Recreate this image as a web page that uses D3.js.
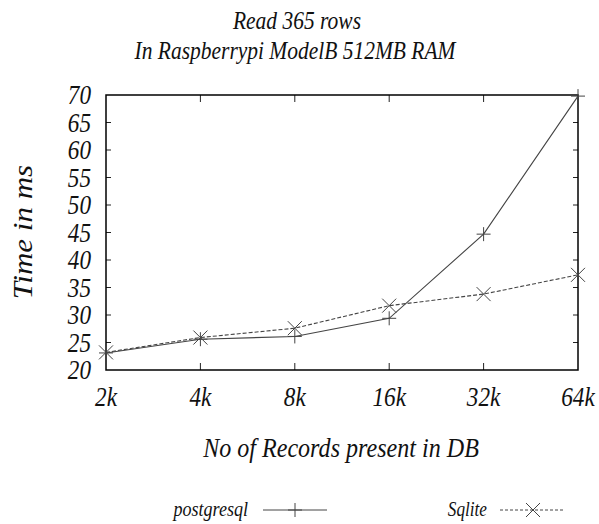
<!DOCTYPE html>
<html>
<head>
<meta charset="utf-8">
<script src="https://cdn.jsdelivr.net/npm/d3@7"></script>
<style>
  body { margin: 0; background: #fff; }
</style>
</head>
<body>
<svg width="599" height="524"></svg>
<script>
const svg = d3.select("svg");

// Data
const categories = ["2k", "4k", "8k", "16k", "32k", "64k"];
const postgresql = [23.1, 25.6, 26.1, 29.4, 44.7, 69.8];
const sqlite = [23.2, 25.9, 27.6, 31.7, 33.8, 37.3];
const yTicks = [20, 25, 30, 35, 40, 45, 50, 55, 60, 65, 70];

const plot = { left: 106, right: 578, top: 95, bottom: 370 };
const squeeze = 0.86; // the picture is horizontally condensed
const serif = "'Liberation Serif', 'DejaVu Serif', serif";

const x = d3.scalePoint().domain(categories).range([plot.left, plot.right]);
const y = d3.scaleLinear().domain([20, 70]).range([plot.bottom, plot.top]);

// text helper: condensed text anchored at (px, py)
function label(px, py, str, size, anchor, rotate) {
  const sc = rotate ? `scale(1,${squeeze})` : `scale(${squeeze},1)`;
  return svg.append("text")
    .attr("transform", `translate(${px},${py})` + (rotate ? ` rotate(${rotate})` : "") + " " + sc)
    .attr("text-anchor", anchor || "middle")
    .style("font-family", serif)
    .style("font-style", "italic")
    .style("font-size", size + "px")
    .attr("fill", "#111")
    .text(str);
}

// Title
label(297, 29, "Read 365 rows", 25);
label(295, 59, "In Raspberrypi ModelB 512MB RAM", 25);

// Frame ticks (inward, mirrored)
const tickG = svg.append("g").attr("stroke", "#222").attr("stroke-width", 1);
yTicks.forEach(v => {
  if (v === 20 || v === 70) return;
  tickG.append("line").attr("x1", plot.left).attr("x2", plot.left + 5).attr("y1", y(v)).attr("y2", y(v));
  tickG.append("line").attr("x1", plot.right).attr("x2", plot.right - 5).attr("y1", y(v)).attr("y2", y(v));
});
categories.forEach((c, i) => {
  if (i === 0 || i === categories.length - 1) return;
  tickG.append("line").attr("x1", x(c)).attr("x2", x(c)).attr("y1", plot.bottom).attr("y2", plot.bottom - 7);
  tickG.append("line").attr("x1", x(c)).attr("x2", x(c)).attr("y1", plot.top).attr("y2", plot.top + 7);
});

// Frame
svg.append("rect")
  .attr("x", plot.left).attr("y", plot.top)
  .attr("width", plot.right - plot.left).attr("height", plot.bottom - plot.top)
  .attr("fill", "none").attr("stroke", "#000").attr("stroke-width", 1.5);

// Tick labels
yTicks.forEach(v => label(91, y(v) + 9, String(v), 27, "end"));
categories.forEach(c => label(x(c), 406, c, 27));

// Axis titles
label(32, 232, "Time in ms", 31, "middle", -90);
label(341, 457, "No of Records present in DB", 28);

// Lines
const line = d3.line().x((d, i) => x(categories[i])).y(d => y(d));
svg.append("path").datum(postgresql).attr("d", line)
  .attr("fill", "none").attr("stroke", "#444").attr("stroke-width", 1.1);
svg.append("path").datum(sqlite).attr("d", line)
  .attr("fill", "none").attr("stroke", "#444").attr("stroke-width", 1.1)
  .attr("stroke-dasharray", "4,2");

// Markers
const plus = (g, cx, cy, r) => g.append("path")
  .attr("d", `M${cx - r},${cy}H${cx + r}M${cx},${cy - r}V${cy + r}`)
  .attr("stroke", "#444").attr("stroke-width", 1).attr("fill", "none");
const cross = (g, cx, cy, r) => g.append("path")
  .attr("d", `M${cx - r},${cy - r}L${cx + r},${cy + r}M${cx - r},${cy + r}L${cx + r},${cy - r}`)
  .attr("stroke", "#444").attr("stroke-width", 1).attr("fill", "none");

const marks = svg.append("g");
postgresql.forEach((v, i) => plus(marks, x(categories[i]), y(v), 7));
sqlite.forEach((v, i) => cross(marks, x(categories[i]), y(v), 7));

// Legend
label(248, 516, "postgresql", 21, "end");
svg.append("line").attr("x1", 263).attr("x2", 327).attr("y1", 510).attr("y2", 510)
  .attr("stroke", "#444").attr("stroke-width", 1);
plus(svg, 295, 510, 7);
label(487, 516, "Sqlite", 20, "end");
svg.append("line").attr("x1", 500).attr("x2", 565).attr("y1", 510).attr("y2", 510)
  .attr("stroke", "#444").attr("stroke-width", 1).attr("stroke-dasharray", "3,2");
cross(svg, 533, 510, 7);
</script>
</body>
</html>
